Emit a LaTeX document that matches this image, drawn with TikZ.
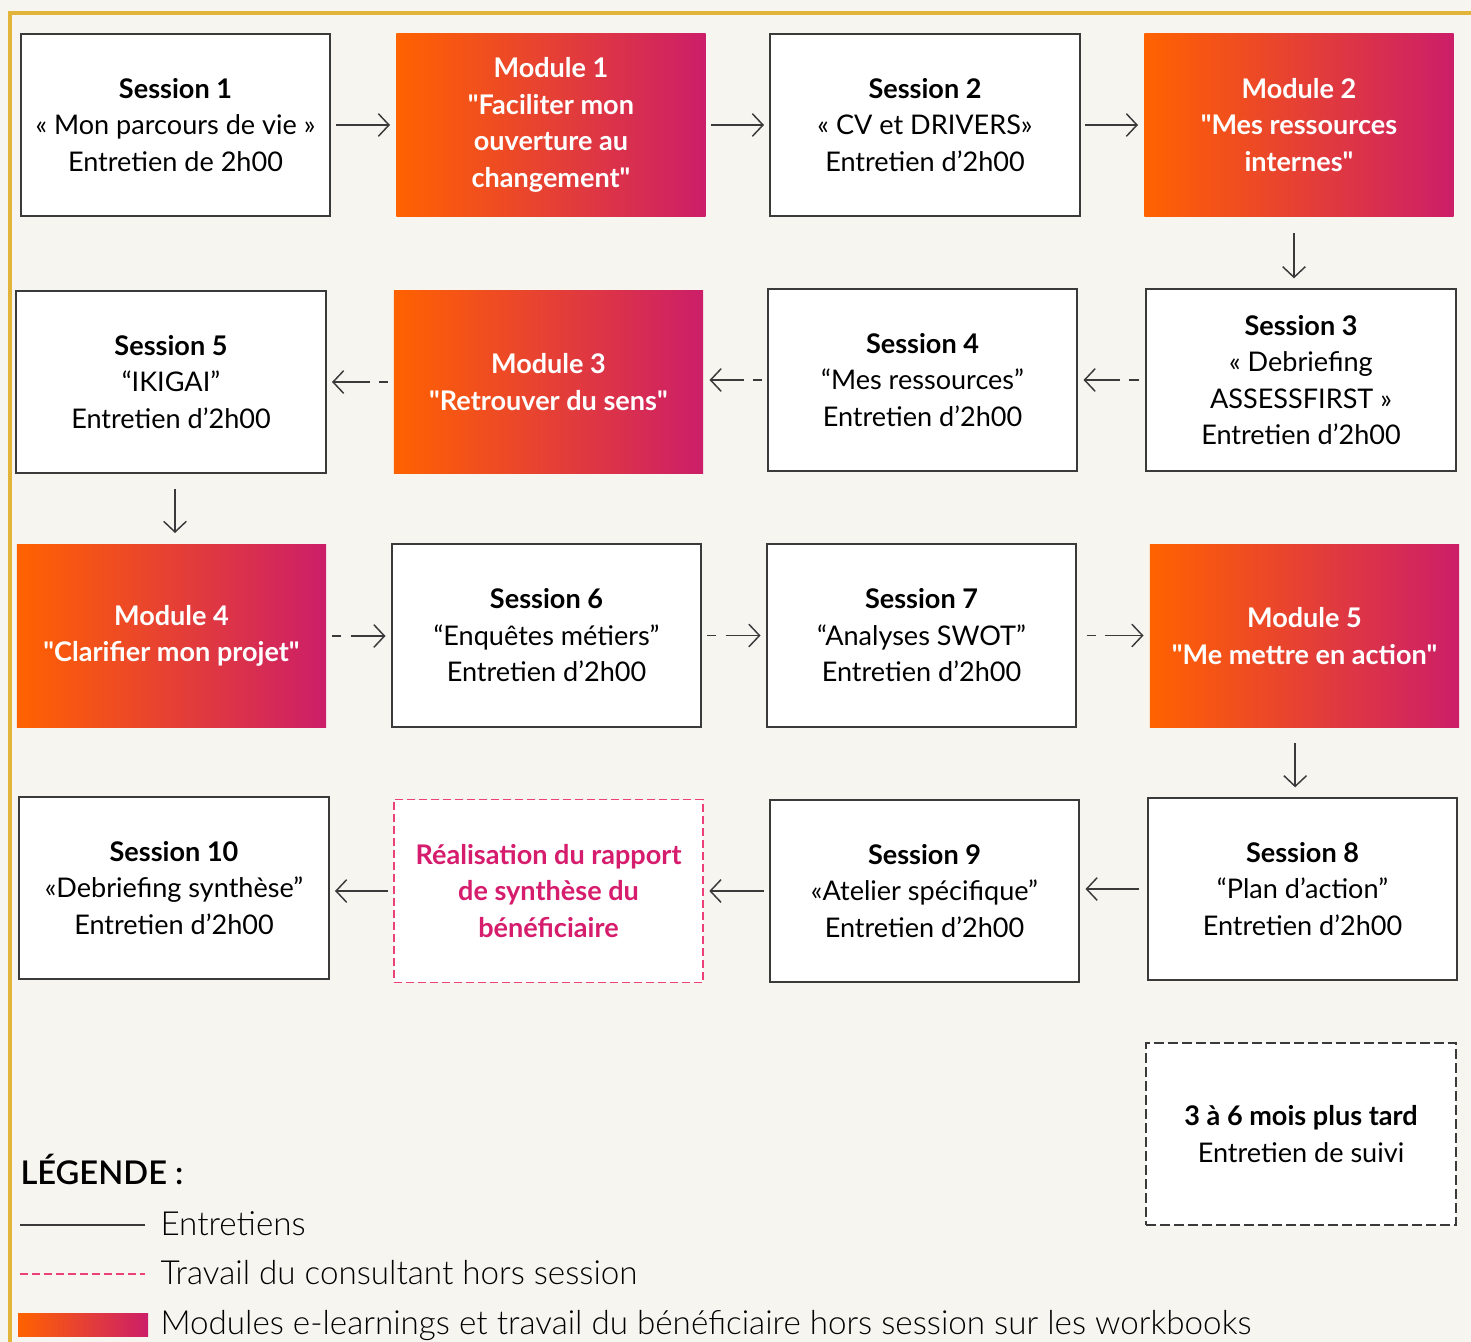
\documentclass[tikz,border=0pt]{standalone}
\usepackage{fontspec}
\setmainfont{Lato}[Ligatures=TeXOff]
\newfontfamily\latolight{Lato Light}[Ligatures=TeXOff]
\newfontfamily\latosemi{Lato Semibold}[Ligatures=TeXOff]
\usetikzlibrary{arrows.meta}

\definecolor{cadre}{RGB}{226,181,58}
\definecolor{fond}{RGB}{247,245,240}
\definecolor{trait}{RGB}{58,58,58}
\definecolor{orangemod}{RGB}{255,98,0}
\definecolor{rosemod}{RGB}{204,30,105}
\definecolor{roseconsult}{RGB}{236,64,120}
\definecolor{texterose}{RGB}{214,28,108}

\tikzset{every picture/.style={line width=0.75pt}}
\tikzset{
	boite/.style={draw=trait, line width=1.5pt, fill=white, minimum width=232pt, minimum height=137pt, inner sep=0pt, align=center, font=\fontsize{20.3}{27.4}\selectfont},
	module/.style={boite, draw=none, left color=orangemod, right color=rosemod, text=white, font=\bfseries\fontsize{20.3}{27.4}\selectfont},
	consult/.style={boite, draw=roseconsult, line width=1.2pt, dash pattern=on 6pt off 3pt, text=texterose, font=\bfseries\fontsize{20.3}{27.4}\selectfont},
	suivi/.style={boite, dash pattern=on 7pt off 3.5pt},
	fleche/.style={draw=trait, line width=1.1pt, -{Straight Barb[length=8pt,width=17pt]}, shorten <=3.5pt, shorten >=4pt},
	pointille/.style={fleche, dash pattern=on 7pt off 7pt on 80pt},
	legende/.style={anchor=base west, inner sep=0pt, font=\latolight\fontsize{24.9}{28}\selectfont}
}

\begin{document}
\begin{tikzpicture}[x=0.75pt,y=0.75pt,yscale=-1,xscale=1]
	\useasboundingbox (0,0) rectangle (1471,1342);
	\fill[fond] (0,0) rectangle (1471,1342);
	\draw[cadre, line width=3pt] (10,1342) -- (10,13) -- (1471,13);
	
	%Ligne 1
	\node[boite] (s1) at (175.5,125) {\textbf{Session 1}\\« Mon parcours de vie »\\Entretien de 2h00};
	\node[module] (m1) at (551,125) {Module 1\\"Faciliter mon\\ouverture au\\changement"};
	\node[boite] (s2) at (925,125) {\textbf{Session 2}\\« CV et DRIVERS»\\Entretien d’2h00};
	\node[module] (m2) at (1299,125) {Module 2\\"Mes ressources\\internes"};
	
	%Ligne 2
	\node[boite] (s3) at (1301,380) {\textbf{Session 3}\\« Debriefing\\ASSESSFIRST »\\Entretien d’2h00};
	\node[boite] (s4) at (922.5,380) {\textbf{Session 4}\\“Mes ressources”\\Entretien d’2h00};
	\node[module] (m3) at (548.5,382) {Module 3\\"Retrouver du sens"};
	\node[boite] (s5) at (171,382) {\textbf{Session 5}\\“IKIGAI”\\Entretien d’2h00};
	
	%Ligne 3
	\node[module] (m4) at (171.5,636) {Module 4\\"Clarifier mon projet"};
	\node[boite] (s6) at (546.5,635.5) {\textbf{Session 6}\\“Enquêtes métiers”\\Entretien d’2h00};
	\node[boite] (s7) at (921.5,635.5) {\textbf{Session 7}\\“Analyses SWOT”\\Entretien d’2h00};
	\node[module] (m5) at (1304.5,636) {Module 5\\"Me mettre en action"};
	
	%Ligne 4
	\node[boite] (s8) at (1302.5,889) {\textbf{Session 8}\\“Plan d’action”\\Entretien d’2h00};
	\node[boite] (s9) at (924.5,891) {\textbf{Session 9}\\«Atelier spécifique”\\Entretien d’2h00};
	\node[consult] (rap) at (548.5,891) {Réalisation du rapport\\de synthèse du\\bénéficiaire};
	\node[boite] (s10) at (174,888) {\textbf{Session 10}\\«Debriefing synthèse”\\Entretien d’2h00};
	
	\node[suivi] (suivi) at (1301,1134) {\textbf{3 à 6 mois plus tard}\\Entretien de suivi};
	
	%Fleches
	\draw[fleche] (s1.east) -- (m1.west |- s1.east);
	\draw[fleche] (m1.east) -- (s2.west |- m1.east);
	\draw[fleche] (s2.east) -- (m2.west |- s2.east);
	\draw[fleche, shorten <=12pt, shorten >=7pt] ([xshift=-3.75pt]m2.south) -- ([xshift=-3.75pt]m2.south |- s3.north);
	\draw[pointille, shorten <=5pt] (s3.west) -- (s4.east |- s3.west);
	\draw[pointille] (s4.west) -- (m3.east |- s4.west);
	\draw[pointille] (m3.west) -- (s5.east |- m3.west);
	\draw[fleche, shorten <=11pt, shorten >=8pt] ([xshift=3pt]s5.south) -- ([xshift=3pt]s5.south |- m4.north);
	\draw[pointille] (m4.east) -- (s6.west |- m4.east);
	\draw[pointille] (s6.east) -- (s7.west |- s6.east);
	\draw[pointille, shorten <=7pt] (s7.east) -- (m5.west |- s7.east);
	\draw[fleche, shorten <=11pt, shorten >=7pt] ([xshift=-7pt]m5.south) -- ([xshift=-7pt]m5.south |- s8.north);
	\draw[fleche, shorten <=6pt] (s8.west) -- (s9.east |- s8.west);
	\draw[fleche] (s9.west) -- (rap.east |- s9.west);
	\draw[fleche] (rap.west) -- (s10.east |- rap.west);
	
	%Legende
	\node[anchor=base west, inner sep=0pt, font=\latosemi\fontsize{24.5}{28}\selectfont] (titre) at (20,1184) {LÉGENDE :};
	\draw[trait, line width=1.1pt] (20,1225) -- (145,1225);
	\node[legende] (l1) at (160,1235) {Entretiens};
	\draw[roseconsult, line width=1.1pt, dash pattern=on 6pt off 3pt] (20,1274) -- (145,1274);
	\node[legende] (l2) at (160,1284) {Travail du consultant hors session};
	\shade[left color=orangemod, right color=rosemod] (18,1313) rectangle (148,1336);
	\node[legende] (l3) at (160,1334) {Modules e-learnings et travail du bénéficiaire hors session sur les workbooks};
\end{tikzpicture}
\end{document}
